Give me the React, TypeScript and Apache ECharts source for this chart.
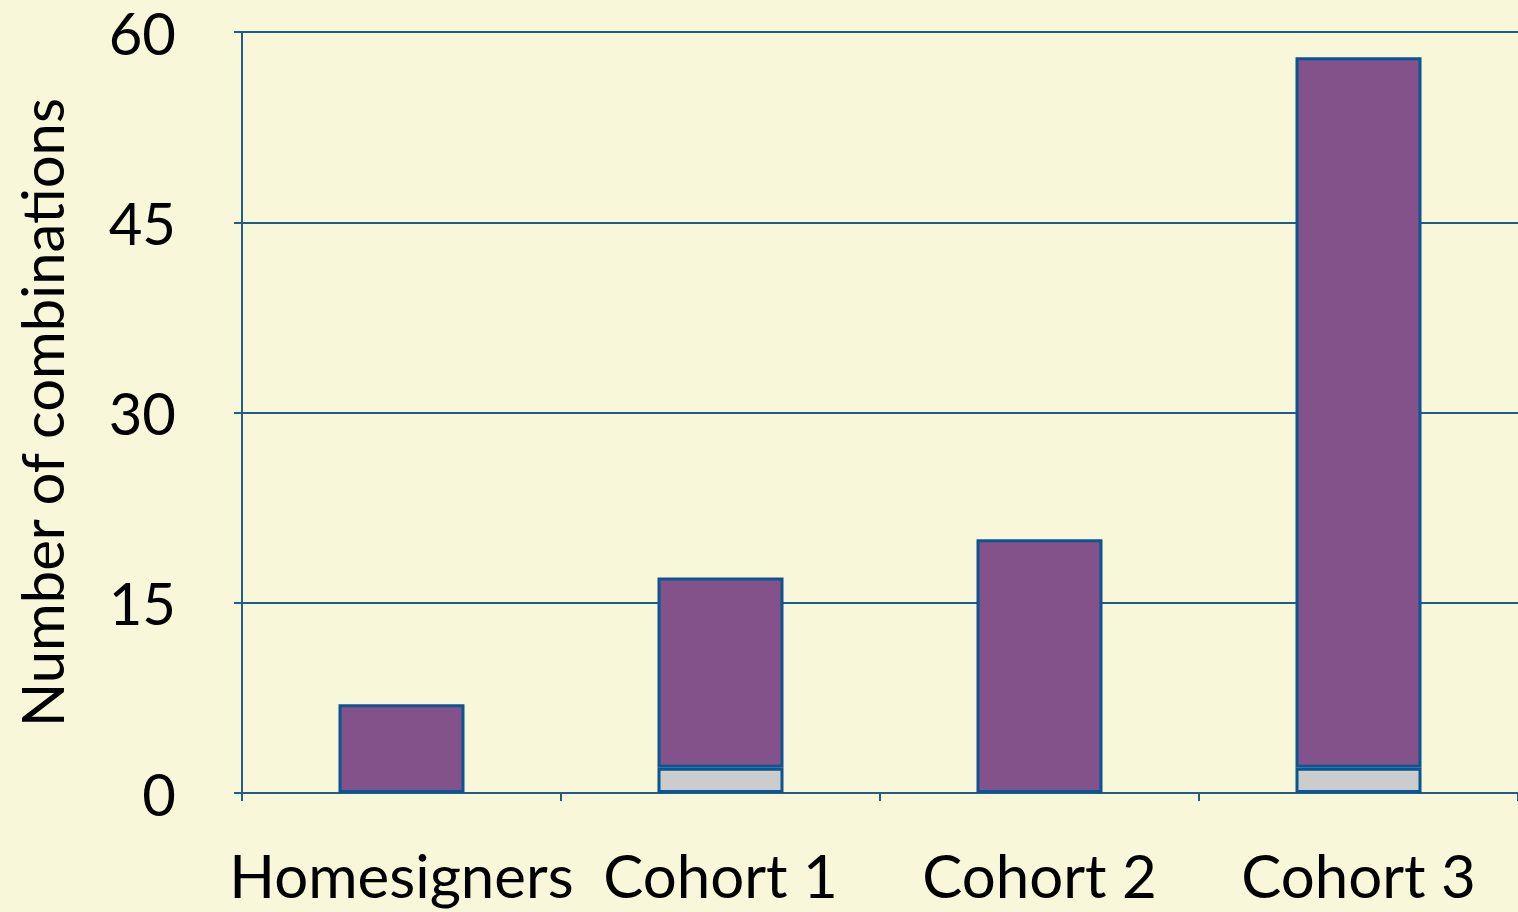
import React, { useEffect, useRef } from "react";
import * as echarts from "echarts";

const categories = ["Homesigners", "Cohort 1", "Cohort 2", "Cohort 3"];
const grayValues = [0, 2, 0, 2];
const purpleValues = [7, 15, 20, 56];
const yTicks = [0, 15, 30, 45, 60];

const FONT = "Lato, 'Open Sans', sans-serif";
const BLUE = "#1F5E8A";
const BORDER = "#0B5592";

export default function App() {
  const ref = useRef<HTMLDivElement>(null);
  useEffect(() => {
    if (!ref.current) return;
    const chart = echarts.init(ref.current, undefined, { renderer: "svg" });
    chart.setOption({
      animation: false,
      backgroundColor: "#F8F7D9",
      grid: { left: 242, right: 0, top: 32, bottom: 119, containLabel: false, outerBoundsMode: "none" },
      xAxis: {
        type: "category",
        data: categories,
        axisLine: { show: true, lineStyle: { color: BLUE, width: 2 } },
        axisTick: { show: true, alignWithLabel: false, length: 8, lineStyle: { color: BLUE, width: 2 } },
        axisLabel: { color: "#000", fontFamily: FONT, fontSize: 60, margin: 52, interval: 0 },
      },
      yAxis: {
        type: "value",
        min: yTicks[0],
        max: yTicks[yTicks.length - 1],
        interval: 15,
        name: "Number of combinations",
        nameLocation: "middle",
        nameGap: 176,
        nameRotate: 90,
        nameTextStyle: { color: "#000", fontFamily: FONT, fontSize: 58, lineHeight: 50 },
        axisLine: { show: true, lineStyle: { color: BLUE, width: 2 } },
        axisTick: { show: true, length: 8, lineStyle: { color: BLUE, width: 2 } },
        axisLabel: { color: "#000", fontFamily: FONT, fontSize: 58, lineHeight: 44, margin: 66, align: "right" },
        splitLine: { show: true, lineStyle: { color: BLUE, width: 2 } },
      },
      series: [
        {
          type: "bar",
          stack: "total",
          data: grayValues.map((v) => (v === 0 ? "-" : v)),
          barWidth: 126,
          itemStyle: { color: "#CBCDCD", borderColor: BORDER, borderWidth: 3 },
        },
        {
          type: "bar",
          stack: "total",
          data: purpleValues,
          barWidth: 126,
          itemStyle: { color: "#84528A", borderColor: BORDER, borderWidth: 3 },
        },
      ],
    });
    return () => chart.dispose();
  }, []);
  return <div ref={ref} style={{ position: "fixed", left: 0, top: 0, width: 1518, height: 912 }} />;
}
